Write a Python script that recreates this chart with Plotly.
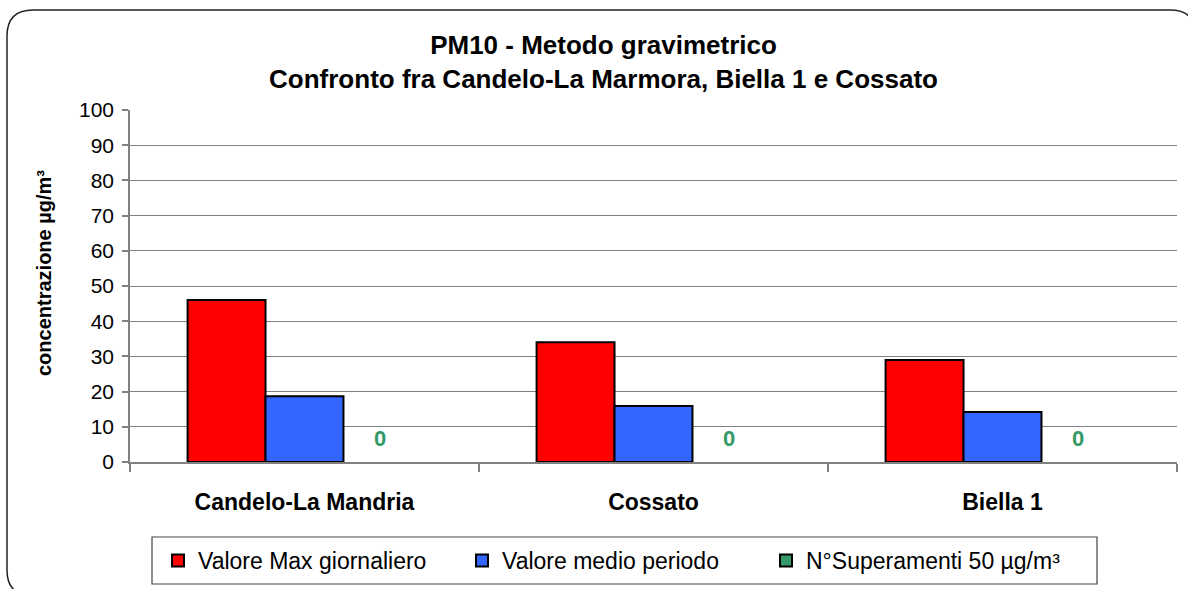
import plotly.graph_objects as go

categories = ["Candelo-La Mandria", "Cossato", "Biella 1"]
valore_max = [46, 34, 29]
valore_medio = [18.7, 15.9, 14.2]
superamenti = [0, 0, 0]
y_ticks = list(range(0, 101, 10))

W, H = 1188, 589
L, R, T, B = 130, 1177, 110, 462  # plot area pixels

FONT = "Liberation Sans, Arial, sans-serif"
GREEN = "#339966"

def px2paper_x(px):
    return (px - L) / (R - L)

def px2paper_y(py):
    return (B - py) / (B - T)

fig = go.Figure()
fig.add_trace(go.Bar(x=categories, y=valore_max, name="Valore Max giornaliero",
                     offsetgroup="a",
                     marker=dict(color="#FF0000", line=dict(color="black", width=2))))
fig.add_trace(go.Bar(x=categories, y=valore_medio, name="Valore medio periodo",
                     offsetgroup="b",
                     marker=dict(color="#3366FF", line=dict(color="black", width=2))))
# zero-height bars (no outline, as in the reference)
fig.add_trace(go.Bar(x=categories, y=superamenti, name="N°Superamenti 50 µg/m³",
                     offsetgroup="c", showlegend=False,
                     marker=dict(color=GREEN, line=dict(width=0))))
# legend entry for the green series
fig.add_trace(go.Bar(x=categories, y=[None] * len(categories), name="N°Superamenti 50 µg/m³",
                     offsetgroup="c",
                     marker=dict(color=GREEN, line=dict(color="black", width=2))))

for cat, v in zip(categories, superamenti):
    fig.add_annotation(x=cat, y=v, xref="x", yref="y", text=str(v), showarrow=False,
                       xshift=75, yshift=24,
                       font=dict(family=FONT, size=22, color=GREEN, weight="bold"))

# rounded border
x0, y0, x1, y1, r = 7, 10, 1196, 596, 26
path = (f"M {px2paper_x(x0+r)} {px2paper_y(y0)} L {px2paper_x(x1-r)} {px2paper_y(y0)} "
        f"Q {px2paper_x(x1)} {px2paper_y(y0)} {px2paper_x(x1)} {px2paper_y(y0+r)} "
        f"L {px2paper_x(x1)} {px2paper_y(y1-r)} "
        f"Q {px2paper_x(x1)} {px2paper_y(y1)} {px2paper_x(x1-r)} {px2paper_y(y1)} "
        f"L {px2paper_x(x0+r)} {px2paper_y(y1)} "
        f"Q {px2paper_x(x0)} {px2paper_y(y1)} {px2paper_x(x0)} {px2paper_y(y1-r)} "
        f"L {px2paper_x(x0)} {px2paper_y(y0+r)} "
        f"Q {px2paper_x(x0)} {px2paper_y(y0)} {px2paper_x(x0+r)} {px2paper_y(y0)} Z")
fig.add_shape(type="path", path=path, xref="paper", yref="paper",
              line=dict(color="#222222", width=1.5), layer="below")

# legend frame
fig.add_shape(type="rect", xref="paper", yref="paper",
              x0=px2paper_x(152), x1=px2paper_x(1097),
              y0=px2paper_y(537), y1=px2paper_y(584),
              line=dict(color="#444444", width=1.2), layer="above")

fig.add_annotation(text="concentrazione µg/m³", xref="paper", yref="paper",
                   x=px2paper_x(44), y=px2paper_y(273), xanchor="center", yanchor="middle",
                   textangle=-90, showarrow=False,
                   font=dict(family=FONT, size=20, color="black", weight="bold"))

fig.update_layout(
    width=W, height=H,
    margin=dict(l=L, r=W - R, t=T, b=H - B, pad=0, autoexpand=False),
    paper_bgcolor="white", plot_bgcolor="white",
    font=dict(family=FONT, color="black"),
    title=dict(text="PM10 - Metodo gravimetrico<br>Confronto fra Candelo-La Marmora, Biella 1 e Cossato",
               x=0.508, xref="container", xanchor="center", y=0.908, yanchor="top",
               font=dict(family=FONT, size=26, color="black", weight="bold")),
    barmode="group", bargap=0.33, bargroupgap=0,
    showlegend=True,
    legend=dict(orientation="h", x=px2paper_x(158), xanchor="left",
                y=px2paper_y(560.5), yanchor="middle",
                borderwidth=0, bgcolor="rgba(0,0,0,0)",
                font=dict(family=FONT, size=23, color="black"),
                traceorder="normal", itemwidth=30, entrywidth=259),
    xaxis=dict(showline=True, linecolor="#808080", linewidth=1.5,
               ticks="outside", ticklen=8, tickcolor="#808080", tickwidth=1.5,
               tickson="boundaries",
               tickfont=dict(family=FONT, size=23, color="black", weight="bold"),
               showgrid=False, ticklabelstandoff=19),
    yaxis=dict(range=[0, 100], tickvals=y_ticks, showline=True, linecolor="#808080",
               linewidth=1.5, ticks="outside", ticklen=6, tickcolor="#808080",
               tickwidth=1.5, showgrid=True, gridcolor="#808080", gridwidth=1.2,
               tickfont=dict(family=FONT, size=21, color="black"), zeroline=False,
               ticklabelstandoff=4),
)

fig.write_html("out.html", config={"displayModeBar": False},
               post_script="document.body.style.margin='0';")
